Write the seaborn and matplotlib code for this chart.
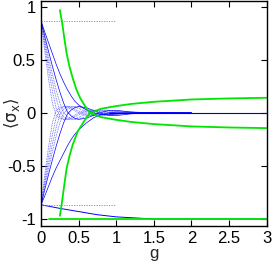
import numpy as np
import pandas as pd
import seaborn as sns
import matplotlib.pyplot as plt

sns.set_style("ticks")
plt.rcParams['font.family'] = ['Liberation Sans', 'DejaVu Sans']
plt.rcParams['mathtext.fontset'] = 'dejavusans'

# common g grid for the blue family
g_blue = [0, 0.05, 0.1, 0.15, 0.2, 0.25, 0.3, 0.35, 0.4, 0.45, 0.5,
          0.6, 0.7, 0.8, 0.9, 1.0, 1.2, 1.5, 2.0]

# curves starting at -0.866 (first four dotted, last two solid)
low1 = [-0.866, -0.577, -0.314, -0.093, 0.02, 0.05, 0.062, 0.055, 0.04, 0.02, 0.0,
        -0.025, -0.025, -0.01, 0.005, 0.01, 0.003, -0.002, 0.0]
low2 = [-0.866, -0.628, -0.405, -0.207, -0.043, 0.03, 0.058, 0.062, 0.052, 0.035, 0.018,
        -0.012, -0.028, -0.02, -0.005, 0.006, 0.006, 0.0, 0.0]
low3 = [-0.866, -0.663, -0.472, -0.295, -0.139, -0.015, 0.035, 0.058, 0.062, 0.055, 0.042,
        0.01, -0.018, -0.028, -0.018, -0.005, 0.006, 0.002, 0.0]
low4 = [-0.866, -0.689, -0.522, -0.364, -0.219, -0.093, 0.0, 0.035, 0.055, 0.062, 0.058,
        0.035, 0.005, -0.02, -0.025, -0.015, 0.004, 0.003, 0.0]
low5 = [-0.866, -0.718, -0.577, -0.442, -0.314, -0.197, -0.093, -0.01, 0.028, 0.05, 0.06,
        0.05, 0.022, -0.005, -0.022, -0.025, -0.008, 0.004, 0.0]
low6 = [-0.866, -0.78, -0.69, -0.60, -0.52, -0.45, -0.38, -0.31, -0.25, -0.20, -0.16,
        -0.095, -0.045, -0.015, 0.0, 0.008, 0.008, 0.002, 0.0]

# curves starting at +0.866
up1 = [0.866, 0.577, 0.314, 0.093, -0.02, -0.05, -0.062, -0.055, -0.04, -0.02, 0.0,
       0.025, 0.025, 0.01, -0.005, -0.01, -0.003, 0.002, 0.0]
up2 = [0.866, 0.628, 0.405, 0.207, 0.043, -0.03, -0.058, -0.062, -0.052, -0.035, -0.018,
       0.012, 0.028, 0.02, 0.005, -0.006, -0.006, 0.0, 0.0]
up3 = [0.866, 0.663, 0.472, 0.295, 0.139, 0.015, -0.035, -0.058, -0.062, -0.055, -0.042,
       -0.01, 0.018, 0.028, 0.018, 0.005, -0.006, -0.002, 0.0]
up4 = [0.866, 0.689, 0.522, 0.364, 0.219, 0.093, 0.0, -0.035, -0.055, -0.062, -0.058,
       -0.035, -0.005, 0.02, 0.025, 0.015, -0.004, -0.003, 0.0]
up5 = [0.866, 0.718, 0.577, 0.442, 0.314, 0.197, 0.093, 0.01, -0.028, -0.05, -0.06,
       -0.05, -0.022, 0.005, 0.022, 0.025, 0.008, -0.004, 0.0]
up6 = [0.866, 0.76, 0.66, 0.56, 0.46, 0.37, 0.29, 0.22, 0.16, 0.11, 0.075,
       0.03, 0.0, -0.015, -0.015, -0.01, 0.0, 0.002, 0.0]

# y = 0 line the curves settle onto
g_zero = [0.9, 3.0]
y_zero = [0.0, 0.0]

# blue curve decaying to -1
g_down = [0, 0.25, 0.5, 0.75, 1.0, 1.25, 1.5, 3.0]
y_down = [-0.866, -0.90, -0.93, -0.96, -0.98, -0.99, -1.0, -1.0]

# green curves
g_gup = [0.25, 0.28, 0.31, 0.34, 0.38, 0.42, 0.47, 0.52, 0.58, 0.65, 0.8, 1.0, 1.2, 1.5, 2.0, 2.5, 3.0]
y_gup = [0.97, 0.85, 0.70, 0.56, 0.43, 0.33, 0.22, 0.14, 0.07, 0.0, -0.04, -0.065, -0.085,
         -0.105, -0.127, -0.137, -0.143]
g_glo = [0.25, 0.28, 0.31, 0.34, 0.38, 0.42, 0.49, 0.58, 0.65, 0.8, 1.0, 1.2, 1.5, 2.0, 2.5, 3.0]
y_glo = [-0.97, -0.83, -0.67, -0.52, -0.40, -0.30, -0.17, -0.07, 0.0, 0.04, 0.065, 0.085,
         0.105, 0.127, 0.137, 0.143]
g_gflat = [0.11, 3.0]
y_gflat = [-1.0, -1.0]

# reference levels
g_ref = [0, 1]
y_ref = np.sqrt(3) / 2

fig, ax = plt.subplots(figsize=(2.74, 2.67), dpi=100)
fig.subplots_adjust(left=0.150, right=0.973, bottom=0.154, top=0.996)

blue = "#0000ff"
green = "#00e600"

for ys in [low1, low2, low3, low4, up1, up2, up3, up4]:
    sns.lineplot(x=g_blue, y=ys, ax=ax, color="#5c5cff", lw=0.6, linestyle=(0, (1, 1)),
                 sort=False, estimator=None)
for ys in [low5, low6, up5, up6]:
    sns.lineplot(x=g_blue, y=ys, ax=ax, color=blue, lw=0.5, sort=False, estimator=None)
sns.lineplot(x=g_zero, y=y_zero, ax=ax, color="#0000cc", lw=0.8, sort=False, estimator=None)
sns.lineplot(x=g_down, y=y_down, ax=ax, color=blue, lw=0.7, sort=False, estimator=None)

for ysign in [1, -1]:
    ax.plot(g_ref, [ysign * y_ref] * 2, color="#888888", lw=0.6, linestyle=(0, (1.5, 1.5)))

sns.lineplot(x=g_gup, y=y_gup, ax=ax, color=green, lw=1.3, sort=False, estimator=None)
sns.lineplot(x=g_glo, y=y_glo, ax=ax, color=green, lw=1.3, sort=False, estimator=None)
sns.lineplot(x=g_gflat, y=y_gflat, ax=ax, color=green, lw=1.3, sort=False, estimator=None)

ax.set_xlim(0, 3)
ax.set_ylim(-1.065, 1.055)
ax.set_xticks([0, 0.5, 1, 1.5, 2, 2.5, 3])
ax.set_xticklabels(["0", "0.5", "1", "1.5", "2", "2.5", "3"])
ax.set_yticks([-1, -0.5, 0, 0.5, 1])
ax.set_yticklabels(["-1", "-0.5", "0", "0.5", "1"])
ax.tick_params(direction="in", length=4, width=0.8, top=True, right=True,
               labelsize=12, pad=4, colors="black")
for s in ax.spines.values():
    s.set_linewidth(1.0)
    s.set_color("black")
ax.set_xlabel("g", fontsize=12, labelpad=0)
ax.set_ylabel(r"$\langle\mathrm{\sigma}_{\mathrm{x}}\rangle$", fontsize=12)
ax.yaxis.set_label_coords(-0.085, 0.502)

fig.savefig("out.png", dpi=100)
